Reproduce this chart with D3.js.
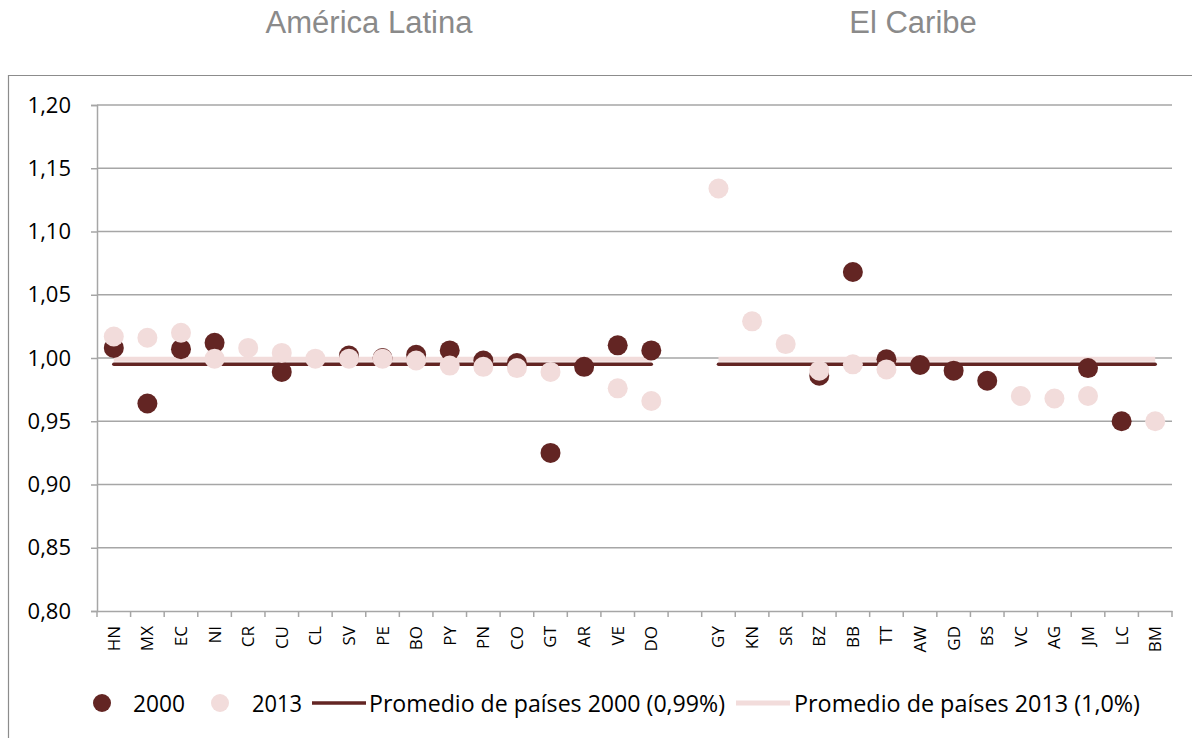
<!DOCTYPE html>
<html>
<head>
<meta charset="utf-8">
<script src="https://cdn.jsdelivr.net/npm/d3@7"></script>
<style>
  body { margin: 0; background: #fff; }
  svg { display: block; }
  .tick-label { font-family: "Open Sans", sans-serif; fill: #000; }
</style>
</head>
<body>
<svg id="chart" width="1193" height="739"></svg>
<script>
// categories (blank slot separates the two regions)
const latin = ["HN","MX","EC","NI","CR","CU","CL","SV","PE","BO","PY","PN","CO","GT","AR","VE","DO"];
const caribe = ["GY","KN","SR","BZ","BB","TT","AW","GD","BS","VC","AG","JM","LC","BM"];
const countries = latin.concat([" "], caribe);

// series values (null = no point)
const v2000 = [1.008, 0.964, 1.007, 1.012, null, 0.989, null, 1.002, 1.000, 1.0025, 1.006, 0.998, 0.996, 0.925, 0.993, 1.010, 1.006,
  null,
  null, null, null, 0.986, 1.068, 0.999, 0.9945, 0.990, 0.982, null, null, 0.992, 0.950, null];
const v2013 = [1.017, 1.016, 1.020, 0.9995, 1.008, 1.004, 0.9995, 0.9995, 0.9995, 0.998, 0.994, 0.993, 0.992, 0.989, null, 0.976, 0.966,
  null,
  1.134, 1.029, 1.011, 0.990, 0.995, 0.991, null, null, null, 0.970, 0.968, 0.970, null, 0.950];

const avg2000 = 0.995;
const avg2013 = 0.999;
const yTicks = [0.80, 0.85, 0.90, 0.95, 1.00, 1.05, 1.10, 1.15, 1.20];
const regions = ["América Latina", "El Caribe"];
const legendLabels = ["2000", "2013", "Promedio de países 2000 (0,99%)", "Promedio de países 2013 (1,0%)"];

const dark = "#632523";
const light = "#f2dcdb";
const grid = "#a6a6a6";

const svg = d3.select("#chart");
const margin = { left: 97, top: 105, right: 21, bottom: 128 };
const width = +svg.attr("width");
const height = +svg.attr("height");
const innerWidth = width - margin.left - margin.right;
const innerHeight = height - margin.top - margin.bottom;

// chart frame (only top and left edges are visible)
svg.append("path")
  .attr("d", `M8.5,${height - 1}V75.5H${width - 1}`)
  .attr("fill", "none").attr("stroke", "#8c8c8c").attr("stroke-width", 1.2);

// region titles
const titleX = [369, 913];
svg.selectAll(".region")
  .data(regions)
  .enter().append("text")
    .attr("class", "region")
    .attr("x", (d, i) => titleX[i])
    .attr("y", 33)
    .attr("text-anchor", "middle")
    .style("font-family", "'Liberation Sans', Arial, sans-serif")
    .style("font-size", "31px")
    .style("fill", "#8a8a8a")
    .text(d => d);

const g = svg.append("g").attr("transform", `translate(${margin.left},${margin.top})`);

const xScale = d3.scaleBand().domain(countries).range([0, innerWidth]);
const yScale = d3.scaleLinear().domain([0.8, 1.2]).range([innerHeight, 0]);
const xc = d => xScale(d) + xScale.bandwidth() / 2;

// gridlines
g.append("g")
  .selectAll("line")
  .data(yTicks.slice(1))
  .enter().append("line")
    .attr("x1", 0).attr("x2", innerWidth)
    .attr("y1", d => yScale(d)).attr("y2", d => yScale(d))
    .attr("stroke", grid).attr("stroke-width", 1.5);

// y axis
const yAxis = d3.axisLeft(yScale)
  .tickValues(yTicks)
  .tickSize(6)
  .tickPadding(20)
  .tickFormat(d => d3.format(".2f")(d).replace(".", ","));
const yAxisG = g.append("g").call(yAxis);
yAxisG.select(".domain").attr("stroke", grid).attr("stroke-width", 1.5);
yAxisG.selectAll(".tick line").attr("stroke", grid).attr("stroke-width", 1.5);
yAxisG.selectAll(".tick text")
  .attr("class", "tick-label")
  .style("font-size", "22px")
  .attr("fill", "#000");

// x axis: labels centred in bands, ticks at band edges
const xAxis = d3.axisBottom(xScale).tickSize(0).tickPadding(0);
const xAxisG = g.append("g").attr("transform", `translate(0,${innerHeight})`).call(xAxis);
xAxisG.select(".domain").attr("stroke", grid).attr("stroke-width", 1.5);
xAxisG.selectAll(".tick text")
  .attr("class", "tick-label")
  .style("font-size", "17px")
  .attr("fill", "#000")
  .attr("transform", "rotate(-90)")
  .attr("text-anchor", "end")
  .attr("x", -15)
  .attr("y", 0)
  .attr("dy", "0.35em");
xAxisG.append("g")
  .selectAll("line")
  .data(countries.map(d => xScale(d)).concat([innerWidth]))
  .enter().append("line")
    .attr("x1", d => d).attr("x2", d => d)
    .attr("y1", 0).attr("y2", 6)
    .attr("stroke", grid).attr("stroke-width", 1.5);

// average lines per region
const groups = [latin, caribe];
const avgLine = (avg) => d3.line()
  .x(d => xc(d))
  .y(() => yScale(avg));
groups.forEach(grp => {
  g.append("path")
    .attr("d", avgLine(avg2013)(grp))
    .attr("fill", "none").attr("stroke", light).attr("stroke-width", 5);
  g.append("path")
    .attr("d", avgLine(avg2000)(grp))
    .attr("fill", "none").attr("stroke", dark).attr("stroke-width", 3.5)
    .attr("stroke-linecap", "round");
});

// points
const series = [
  { values: v2000, color: dark },
  { values: v2013, color: light }
];
series.forEach(s => {
  g.append("g")
    .selectAll("circle")
    .data(countries.map((c, i) => ({ c, v: s.values[i] })).filter(d => d.v !== null))
    .enter().append("circle")
      .attr("cx", d => xc(d.c))
      .attr("cy", d => yScale(d.v))
      .attr("r", 10)
      .attr("fill", s.color);
});

// legend
const legY = 703;
const legend = svg.append("g").attr("class", "legend");
const legItems = [
  { type: "dot", color: dark, sx: 102, tx: 133, tw: 52 },
  { type: "dot", color: light, sx: 220, tx: 252, tw: 50 },
  { type: "line", color: dark, sx: 312, tx: 369, tw: 356, sw: 3.5 },
  { type: "line", color: light, sx: 736, tx: 794, tw: 346, sw: 5 }
];
legItems.forEach((it, i) => {
  if (it.type === "dot") {
    legend.append("circle")
      .attr("cx", it.sx).attr("cy", legY)
      .attr("r", 9)
      .attr("fill", it.color);
  } else {
    legend.append("line")
      .attr("x1", it.sx).attr("x2", it.sx + 54)
      .attr("y1", legY).attr("y2", legY)
      .attr("stroke", it.color).attr("stroke-width", it.sw);
  }
  legend.append("text")
    .attr("x", it.tx).attr("y", legY + 9)
    .attr("textLength", it.tw)
    .attr("lengthAdjust", "spacingAndGlyphs")
    .style("font-family", "'Open Sans', sans-serif")
    .style("font-size", "23px")
    .style("fill", "#000")
    .text(legendLabels[i]);
});
</script>
</body>
</html>
